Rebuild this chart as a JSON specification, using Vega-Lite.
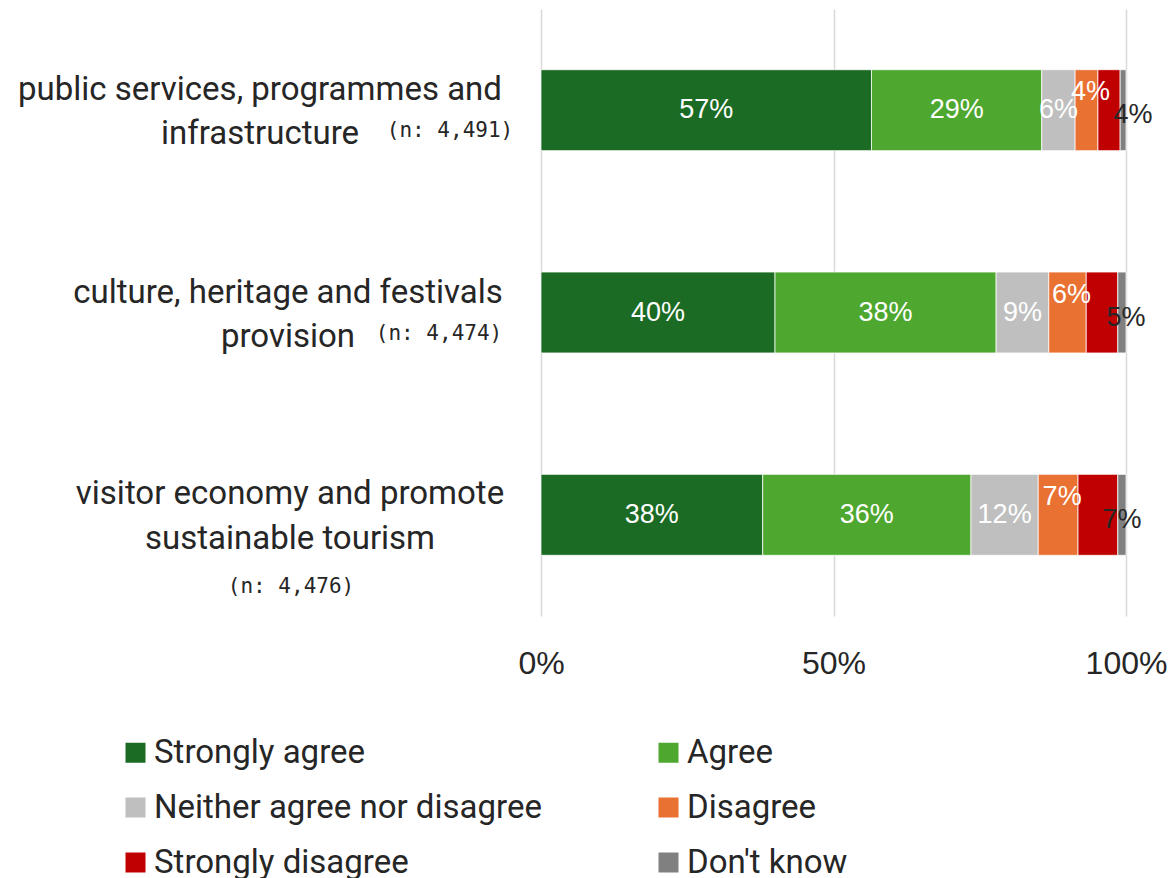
{
  "$schema": "https://vega.github.io/schema/vega-lite/v6.json",
  "width": 585,
  "height": 607,
  "autosize": {"type": "none"},
  "padding": {"left": 541, "top": 9, "right": 45, "bottom": 262},
  "background": "white",
  "config": {"view": {"stroke": null}},
  "datasets": {
    "responses": [
      {"category": "public services, programmes and infrastructure", "response": "Strongly agree", "ord": 1, "value": 56.5, "label": "57%"},
      {"category": "public services, programmes and infrastructure", "response": "Agree", "ord": 2, "value": 29.1, "label": "29%"},
      {"category": "public services, programmes and infrastructure", "response": "Neither agree nor disagree", "ord": 3, "value": 5.7, "label": "6%"},
      {"category": "public services, programmes and infrastructure", "response": "Disagree", "ord": 4, "value": 3.9, "label": "4%"},
      {"category": "public services, programmes and infrastructure", "response": "Strongly disagree", "ord": 5, "value": 3.8, "label": "4%"},
      {"category": "public services, programmes and infrastructure", "response": "Don't know", "ord": 6, "value": 1.0, "label": ""},
      {"category": "culture, heritage and festivals provision", "response": "Strongly agree", "ord": 1, "value": 40.0, "label": "40%"},
      {"category": "culture, heritage and festivals provision", "response": "Agree", "ord": 2, "value": 37.8, "label": "38%"},
      {"category": "culture, heritage and festivals provision", "response": "Neither agree nor disagree", "ord": 3, "value": 9.0, "label": "9%"},
      {"category": "culture, heritage and festivals provision", "response": "Disagree", "ord": 4, "value": 6.4, "label": "6%"},
      {"category": "culture, heritage and festivals provision", "response": "Strongly disagree", "ord": 5, "value": 5.4, "label": "5%"},
      {"category": "culture, heritage and festivals provision", "response": "Don't know", "ord": 6, "value": 1.4, "label": ""},
      {"category": "visitor economy and promote sustainable tourism", "response": "Strongly agree", "ord": 1, "value": 37.9, "label": "38%"},
      {"category": "visitor economy and promote sustainable tourism", "response": "Agree", "ord": 2, "value": 35.6, "label": "36%"},
      {"category": "visitor economy and promote sustainable tourism", "response": "Neither agree nor disagree", "ord": 3, "value": 11.5, "label": "12%"},
      {"category": "visitor economy and promote sustainable tourism", "response": "Disagree", "ord": 4, "value": 6.8, "label": "7%"},
      {"category": "visitor economy and promote sustainable tourism", "response": "Strongly disagree", "ord": 5, "value": 6.8, "label": "7%"},
      {"category": "visitor economy and promote sustainable tourism", "response": "Don't know", "ord": 6, "value": 1.4, "label": ""}
    ],
    "cats": [
      {"category": "public services, programmes and infrastructure", "name": ["public services, programmes and", "infrastructure"], "n": "(n: 4,491)"},
      {"category": "culture, heritage and festivals provision", "name": ["culture, heritage and festivals", "provision"], "n": "(n: 4,474)"},
      {"category": "visitor economy and promote sustainable tourism", "name": ["visitor economy and promote", "sustainable tourism"], "n": "(n: 4,476)"}
    ]
  },
  "encoding": {
    "y": {
      "field": "category",
      "type": "nominal",
      "axis": null,
      "scale": {
        "domain": ["public services, programmes and infrastructure", "culture, heritage and festivals provision", "visitor economy and promote sustainable tourism"],
        "paddingInner": 0.6,
        "paddingOuter": 0.3
      }
    }
  },
  "layer": [
    {
      "data": {"name": "responses"},
      "mark": {"type": "bar", "stroke": "white", "strokeWidth": 0.75},
      "encoding": {
        "x": {
          "field": "value",
          "type": "quantitative",
          "stack": "zero",
          "scale": {"domain": [0, 100], "nice": false},
          "axis": {
            "title": null,
            "values": [0, 50, 100],
            "labelExpr": "datum.value + '%'",
            "grid": true,
            "gridColor": "#d9d9d9",
            "gridWidth": 1.5,
            "domain": false,
            "ticks": false,
            "labelFlush": false,
            "labelFont": "Liberation Sans",
            "labelFontSize": 32,
            "labelColor": "#262626",
            "labelPadding": 32
          }
        },
        "color": {
          "field": "response",
          "type": "nominal",
          "scale": {
            "domain": ["Strongly agree", "Neither agree nor disagree", "Strongly disagree", "Agree", "Disagree", "Don't know"],
            "range": ["#1b6b24", "#bfbfbf", "#c00000", "#4ea72e", "#e97132", "#808080"]
          },
          "legend": {
            "title": null,
            "orient": "none",
            "legendX": -422,
            "legendY": 727,
            "columns": 2,
            "columnPadding": 110,
            "rowPadding": 21,
            "padding": 0,
            "symbolType": "square",
            "symbolSize": 400,
            "symbolStrokeWidth": 0,
            "labelFont": "Roboto",
            "labelFontSize": 33,
            "labelColor": "#262626",
            "labelOffset": 2,
            "labelLimit": 0
          }
        },
        "order": {"field": "ord", "type": "quantitative"}
      }
    },
    {
      "data": {"name": "responses"},
      "mark": {"type": "text", "font": "Liberation Sans", "fontSize": 27, "color": "white", "baseline": "middle", "align": "center"},
      "encoding": {
        "x": {"field": "value", "type": "quantitative", "stack": "zero", "bandPosition": 0.5},
        "detail": {"field": "response"},
        "order": {"field": "ord", "type": "quantitative"},
        "text": {"condition": {"test": "datum.ord <= 3", "field": "label"}, "value": ""}
      }
    },
    {
      "data": {"name": "responses"},
      "mark": {"type": "text", "font": "Liberation Sans", "fontSize": 27, "color": "white", "baseline": "middle", "align": "center", "dx": 4, "dy": -18},
      "encoding": {
        "x": {"field": "value", "type": "quantitative", "stack": "zero", "bandPosition": 0.5},
        "detail": {"field": "response"},
        "order": {"field": "ord", "type": "quantitative"},
        "text": {"condition": {"test": "datum.ord == 4", "field": "label"}, "value": ""}
      }
    },
    {
      "data": {"name": "responses"},
      "mark": {"type": "text", "font": "Liberation Sans", "fontSize": 27, "color": "#262626", "baseline": "middle", "align": "center", "dx": 24, "dy": 5},
      "encoding": {
        "x": {"field": "value", "type": "quantitative", "stack": "zero", "bandPosition": 0.5},
        "detail": {"field": "response"},
        "order": {"field": "ord", "type": "quantitative"},
        "text": {"condition": {"test": "datum.ord == 5", "field": "label"}, "value": ""}
      }
    },
    {
      "data": {"name": "cats"},
      "transform": [{"filter": "datum.category == 'public services, programmes and infrastructure'"}],
      "mark": {"type": "text", "font": "Roboto", "fontSize": 33, "color": "#262626", "baseline": "middle", "align": "center", "lineHeight": 44, "dx": -281, "dy": -20},
      "encoding": {"x": {"datum": 0, "type": "quantitative"}, "text": {"field": "name"}}
    },
    {
      "data": {"name": "cats"},
      "transform": [{"filter": "datum.category == 'culture, heritage and festivals provision'"}],
      "mark": {"type": "text", "font": "Roboto", "fontSize": 33, "color": "#262626", "baseline": "middle", "align": "center", "lineHeight": 44, "dx": -253, "dy": -20},
      "encoding": {"x": {"datum": 0, "type": "quantitative"}, "text": {"field": "name"}}
    },
    {
      "data": {"name": "cats"},
      "transform": [{"filter": "datum.category == 'visitor economy and promote sustainable tourism'"}],
      "mark": {"type": "text", "font": "Roboto", "fontSize": 33, "color": "#262626", "baseline": "middle", "align": "center", "lineHeight": 45, "dx": -251, "dy": -21},
      "encoding": {"x": {"datum": 0, "type": "quantitative"}, "text": {"field": "name"}}
    },
    {
      "data": {"name": "cats"},
      "transform": [{"filter": "datum.category == 'public services, programmes and infrastructure'"}],
      "mark": {"type": "text", "font": "DejaVu Sans Mono", "fontSize": 21, "color": "#262626", "baseline": "middle", "align": "center", "dx": -91, "dy": 21},
      "encoding": {"x": {"datum": 0, "type": "quantitative"}, "text": {"field": "n"}}
    },
    {
      "data": {"name": "cats"},
      "transform": [{"filter": "datum.category == 'culture, heritage and festivals provision'"}],
      "mark": {"type": "text", "font": "DejaVu Sans Mono", "fontSize": 21, "color": "#262626", "baseline": "middle", "align": "center", "dx": -102, "dy": 21},
      "encoding": {"x": {"datum": 0, "type": "quantitative"}, "text": {"field": "n"}}
    },
    {
      "data": {"name": "cats"},
      "transform": [{"filter": "datum.category == 'visitor economy and promote sustainable tourism'"}],
      "mark": {"type": "text", "font": "DejaVu Sans Mono", "fontSize": 21, "color": "#262626", "baseline": "middle", "align": "center", "dx": -250, "dy": 72},
      "encoding": {"x": {"datum": 0, "type": "quantitative"}, "text": {"field": "n"}}
    }
  ]
}
